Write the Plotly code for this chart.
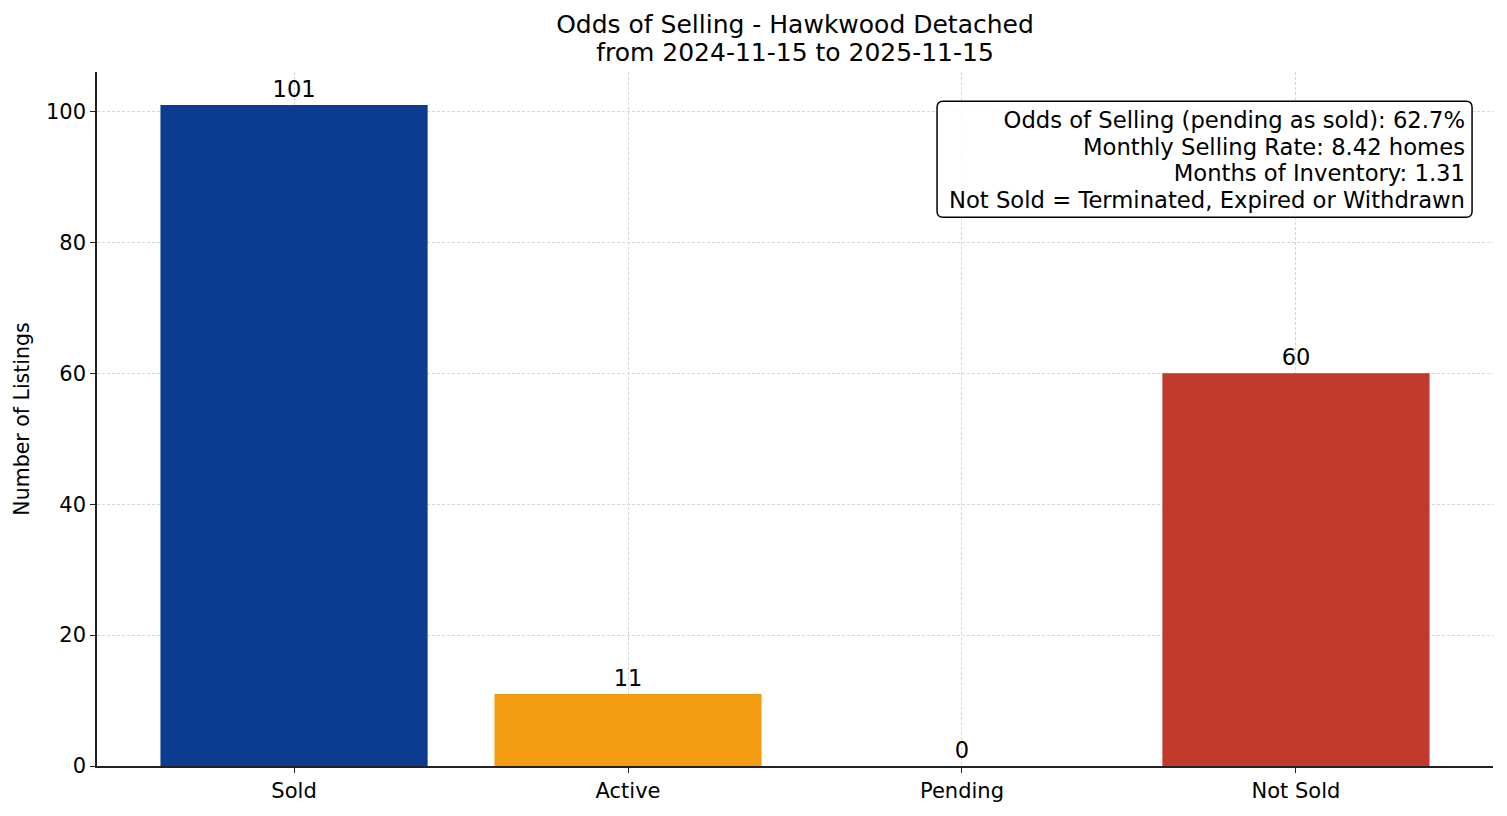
import plotly.graph_objects as go

# chart data
categories = ["Sold", "Active", "Pending", "Not Sold"]
counts = [101, 11, 0, 60]
bar_colors = ["#0B3C8F", "#F39C12", "#27AE60", "#C0392B"]

title_lines = ["Odds of Selling - Hawkwood Detached", "from 2024-11-15 to 2025-11-15"]
stats_lines = [
    "Odds of Selling (pending as sold): 62.7%",
    "Monthly Selling Rate: 8.42 homes",
    "Months of Inventory: 1.31",
    "Not Sold = Terminated, Expired or Withdrawn",
]

FONT = "DejaVu Sans"
# the page body adds an 8px margin, so the figure is made a bit smaller
PAD = 8
W, H = 1507 - 2 * PAD, 816 - 2 * PAD
PLOT_W, PLOT_H = 1493 - 97, 766 - 72


def tight_lines(lines, px):
    # bigger glyphs inside a smaller base font -> tighter line spacing
    return "<br>".join('<span style="font-size:%spx">%s</span>' % (px, s) for s in lines)


def rounded_box(x0, y0, x1, y1, r_px=6):
    # rounded rectangle path in paper coords
    rx, ry = r_px / PLOT_W, r_px / PLOT_H
    return (
        f"M{x0 + rx},{y1} L{x1 - rx},{y1} Q{x1},{y1} {x1},{y1 - ry} "
        f"L{x1},{y0 + ry} Q{x1},{y0} {x1 - rx},{y0} "
        f"L{x0 + rx},{y0} Q{x0},{y0} {x0},{y0 + ry} "
        f"L{x0},{y1 - ry} Q{x0},{y1} {x0 + rx},{y1} Z"
    )


fig = go.Figure(
    go.Bar(
        x=list(range(len(categories))),
        y=counts,
        width=0.8,
        marker=dict(color=bar_colors, line=dict(width=0)),
        text=[str(c) for c in counts],
        textposition="outside",
        textfont=dict(family=FONT, size=22.5, color="black"),
        cliponaxis=False,
    )
)

axis_common = dict(
    showgrid=True,
    gridcolor="#d6d6d6",
    griddash="3px,2px",
    gridwidth=0.8,
    showline=True,
    linecolor="#222222",
    linewidth=1.5,
    ticks="outside",
    ticklen=5,
    tickwidth=1.2,
    tickcolor="#222222",
    tickfont=dict(family=FONT, size=21, color="black"),
    zeroline=False,
    layer="above traces",
    mirror=False,
)

box_x1, box_y1 = 0.985, 0.958
box_x0, box_y0 = box_x1 - 535 / PLOT_W, box_y1 - 116 / PLOT_H

fig.update_layout(
    width=W,
    height=H,
    margin=dict(l=97 - PAD, r=1507 - 1493 - PAD, t=72 - PAD, b=816 - 766 - PAD),
    paper_bgcolor="white",
    plot_bgcolor="white",
    showlegend=False,
    font=dict(family=FONT, color="black"),
    title=dict(
        text=tight_lines(title_lines, 25),
        x=0.5,
        xref="paper",
        xanchor="center",
        y=1 - 25 / H,
        yref="container",
        yanchor="middle",
        font=dict(family=FONT, size=21.5, color="black"),
    ),
    xaxis=dict(
        axis_common,
        range=[-0.59, 3.59],
        tickmode="array",
        tickvals=list(range(len(categories))),
        ticktext=categories,
    ),
    yaxis=dict(
        axis_common,
        range=[0, 106.05],
        tickmode="array",
        tickvals=[0, 20, 40, 60, 80, 100],
        title=dict(
            text="Number of Listings",
            font=dict(family=FONT, size=20.5, color="black"),
            standoff=11,
        ),
    ),
    shapes=[
        dict(
            type="path",
            xref="paper",
            yref="paper",
            path=rounded_box(box_x0, box_y0, box_x1, box_y1),
            line=dict(color="black", width=1.5),
            fillcolor="rgba(255,255,255,0.85)",
            layer="above",
        )
    ],
    annotations=[
        dict(
            text=tight_lines(stats_lines, 22.7),
            xref="paper",
            yref="paper",
            x=box_x1 - 6 / PLOT_W,
            y=box_y1 - 5 / PLOT_H,
            xanchor="right",
            yanchor="top",
            align="right",
            showarrow=False,
            font=dict(family=FONT, size=20.5, color="black"),
            borderpad=0,
        )
    ],
)

fig.write_html("out.html")
